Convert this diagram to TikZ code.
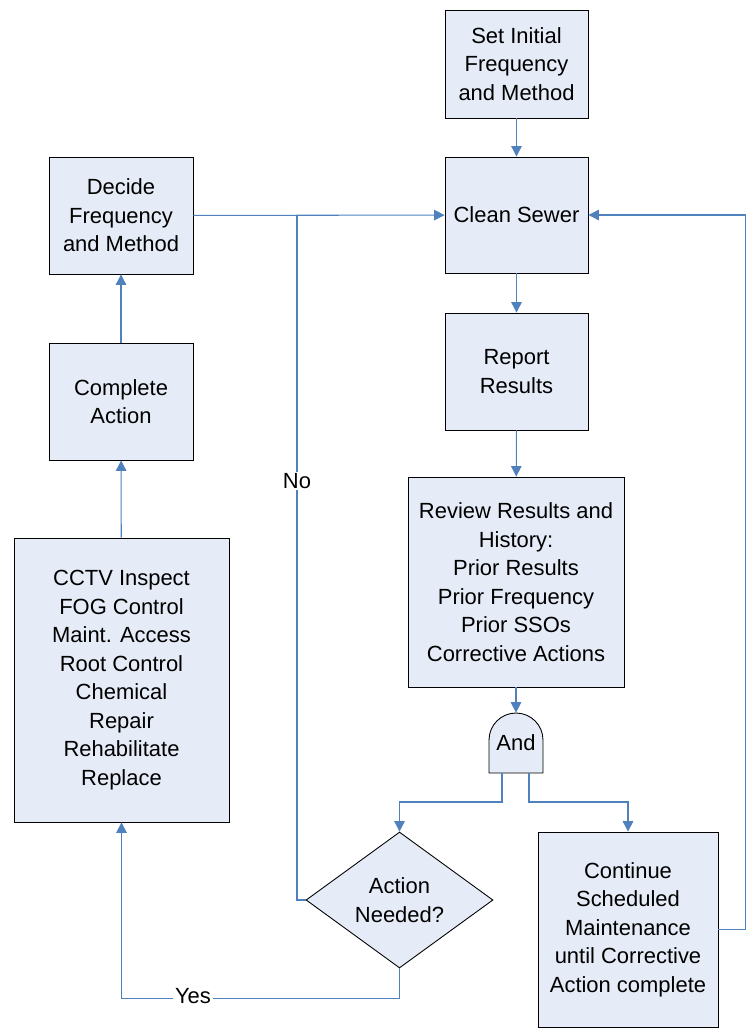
\documentclass[tikz,border=0pt]{standalone}
\usepackage{fontspec}
\setmainfont{Liberation Sans}
\usetikzlibrary{shapes.geometric,arrows.meta}
\definecolor{boxfill}{RGB}{230,236,247}
\definecolor{flowblue}{RGB}{79,129,189}
\tikzset{
  stepbox/.style={draw=black, fill=boxfill, line width=0.5pt, align=center, inner sep=0pt, font=\fontsize{12.5}{16.2}\selectfont},
  decision/.style={stepbox, diamond, aspect=1.375},
  link/.style={draw=flowblue, line width=0.6pt},
  flow/.style={link, -{Triangle[length=6pt,width=6pt]}},
  tag/.style={fill=white, inner sep=1pt, font=\fontsize{12.5}{15}\selectfont}
}

\begin{document}
\begin{tikzpicture}[x=0.02cm,y=-0.02cm]
\useasboundingbox (0,0) rectangle (746,1030);
% right column
\node[stepbox,minimum width=2.86cm,minimum height=2.16cm] (setinit) at (516.5,64) {Set Initial\\Frequency\\and Method};
\node[stepbox,minimum width=2.86cm,minimum height=2.32cm] (clean) at (516.5,215) {Clean Sewer};
\node[stepbox,minimum width=2.86cm,minimum height=2.34cm] (report) at (516.5,371.5) {Report\\Results};
\node[stepbox,minimum width=4.32cm,minimum height=4.2cm] (review) at (516,582) {Review Results and\\History:\\Prior Results\\Prior Frequency\\Prior SSOs\\Corrective Actions};
% and gate
\filldraw[fill=boxfill,draw=black,line width=0.5pt] (489,773) -- (489,740) .. controls (489,725.1) and (501.1,713) .. (516,713) .. controls (530.9,713) and (543,725.1) .. (543,740) -- (543,773) -- cycle;
\node[inner sep=0pt,minimum width=1.08cm,minimum height=1.2cm,font=\fontsize{12.5}{15}\selectfont] (andgate) at (516,743) {And};
\coordinate (andL) at (502,773);
\coordinate (andR) at (529,773);
\node[decision,minimum width=3.74cm,minimum height=2.72cm] (action) at (399.5,900) {Action\\Needed?};
\node[stepbox,minimum width=3.6cm,minimum height=3.9cm] (cont) at (628,929.5) {Continue\\Scheduled\\Maintenance\\until Corrective\\Action complete};
% left column
\node[stepbox,minimum width=2.88cm,minimum height=2.34cm] (decide) at (121,215.5) {Decide\\Frequency\\and Method};
\node[stepbox,minimum width=2.88cm,minimum height=2.34cm] (complete) at (121,401.5) {Complete\\Action};
\node[stepbox,minimum width=4.3cm,minimum height=5.68cm] (cctv) at (121.5,680) {CCTV Inspect\\FOG Control\\Maint. Access\\Root Control\\Chemical\\Repair\\Rehabilitate\\Replace};
% connectors
\coordinate (join) at (297,215.5);
\draw[flow] (setinit) -- (clean);
\draw[flow] (clean) -- (report);
\draw[flow] (report) -- (review);
\draw[flow] (review) -- (andgate);
\draw[flow] (andL) -- ++(0,29) -| (action.north);
\draw[flow] (andR) -- ++(0,29) -| (cont.north);
\draw[flow] (action.south) -- ++(0,30) -| (cctv.south);
\draw[flow] (cctv) -- (complete);
\draw[flow] (complete) -- (decide);
\draw[flow] (decide) -- (clean);
\draw[link] (action.west) -| (join);
\draw[flow] (cont.east) -- ++(27,0) |- (clean.east);
\node[tag] (yes) at (193,996) {Yes};
\node[tag] (no) at (297,481) {No};
\end{tikzpicture}
\end{document}
